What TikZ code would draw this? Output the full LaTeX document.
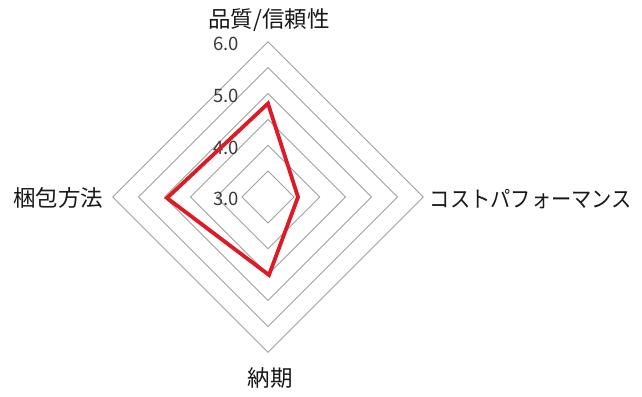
\documentclass[tikz,border=0pt]{standalone}
\usepackage{fontspec}
\newfontfamily\jpfont{Noto Sans CJK JP}
\definecolor{gridgray}{RGB}{160,160,160}
\definecolor{datared}{RGB}{222,26,36}
\definecolor{txt}{RGB}{25,25,25}
\begin{document}
\begin{tikzpicture}[x=1pt,y=-1pt,
  gridline/.style={draw=gridgray,line width=0.9pt},
  datapoly/.style={draw=datared,line width=3.8pt,line join=miter},
  axislabel/.style={font=\jpfont\fontsize{22.5}{22.5}\selectfont,text=txt,inner sep=0pt},
  ticklabel/.style={font=\jpfont\fontsize{18.5}{18.5}\selectfont,text=txt!85,inner sep=0pt,anchor=east}]
\useasboundingbox[fill=white] (0,0) rectangle (642,396);
\coordinate (O) at (268,197);
\foreach \r in {25.9,51.8,77.6,103.5,129.4,155.3}
  \draw[gridline] (268,197-\r) -- (268+\r,197) -- (268,197+\r) -- (268-\r,197) -- cycle;
% tick labels
\node[ticklabel] (t6) at (239,44) {6.0};
\node[ticklabel] (t5) at (239,96) {5.0};
\node[ticklabel] (t4) at (239,148) {4.0};
\node[ticklabel] (t3) at (239,199) {3.0};
% data
\coordinate (q) at (268,103.5);
\coordinate (c) at (298,197);
\coordinate (n) at (269,275);
\coordinate (k) at (167,198);
\draw[datapoly] (q) -- (c) -- (n) -- (k) -- cycle;
% axis labels
\node[axislabel] (lq) at (269,20) {品質/信頼性};
\node[axislabel,xscale=0.9] (lc) at (531,199) {コストパフォーマンス};
\node[axislabel] (ln) at (270,378) {納期};
\node[axislabel] (lk) at (58,198) {梱包方法};
\end{tikzpicture}
\end{document}
